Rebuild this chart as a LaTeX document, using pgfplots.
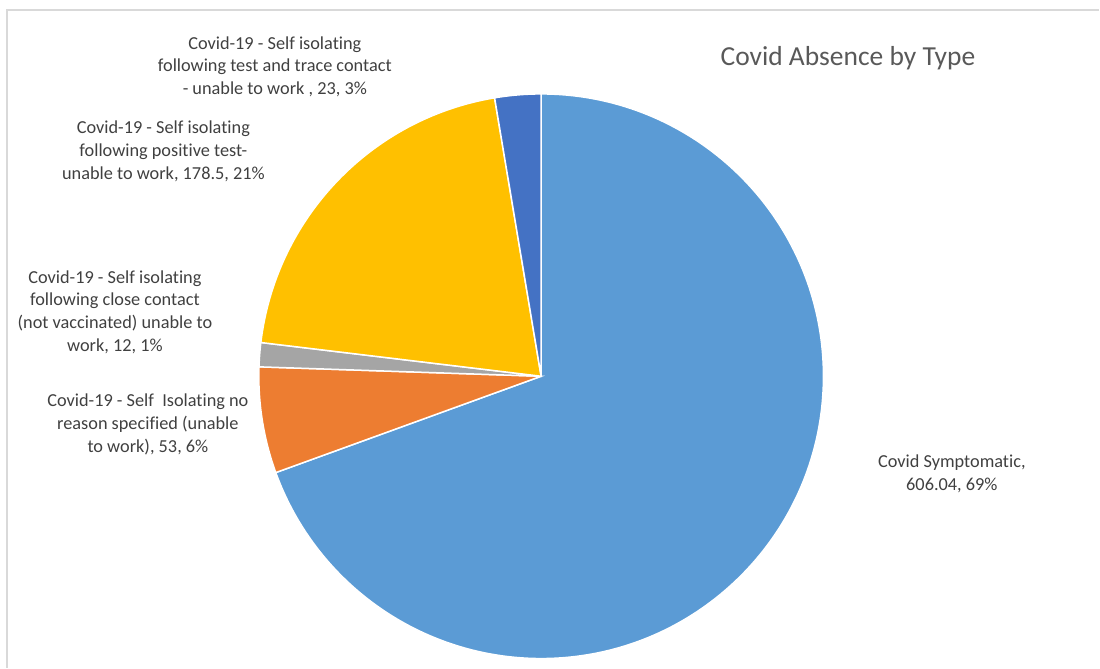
\documentclass[border=0pt]{standalone}
\usepackage{pgfplots}
\pgfplotsset{compat=1.18}
\usepackage{fontspec}
\setmainfont[Ligatures={NoCommon}]{Carlito}
\definecolor{cBlue}{HTML}{5B9BD5}
\definecolor{cOrange}{HTML}{ED7D31}
\definecolor{cGrey}{HTML}{A5A5A5}
\definecolor{cYellow}{HTML}{FFC000}
\definecolor{cDark}{HTML}{4472C4}
\definecolor{lbl}{HTML}{404040}
\definecolor{ttl}{HTML}{595959}
\definecolor{frm}{HTML}{D9D9D9}
\begin{document}
\begin{tikzpicture}
% slice values (clockwise from 12 o'clock)
\pgfmathsetmacro{\vA}{606.04}% Covid Symptomatic
\pgfmathsetmacro{\vB}{53}%     Self isolating no reason specified
\pgfmathsetmacro{\vC}{12}%     close contact (not vaccinated)
\pgfmathsetmacro{\vD}{178.5}%  positive test
\pgfmathsetmacro{\vE}{23}%     test and trace contact
\pgfmathsetmacro{\tot}{\vA+\vB+\vC+\vD+\vE}
\pgfmathsetmacro{\aA}{90}
\pgfmathsetmacro{\aB}{\aA-360*(\vA/\tot)}
\pgfmathsetmacro{\aC}{\aB-360*(\vB/\tot)}
\pgfmathsetmacro{\aD}{\aC-360*(\vC/\tot)}
\pgfmathsetmacro{\aE}{\aD-360*(\vD/\tot)}
\pgfmathsetmacro{\aF}{\aE-360*(\vE/\tot)}
\def\R{282.5pt}
\begin{axis}[x=1pt,y=1pt,xmin=0,xmax=1100,ymin=0,ymax=668,y dir=reverse,
  hide axis,clip=false,
  every node/.style={inner sep=0pt,outer sep=0pt}]
\path (axis cs:0,0) (axis cs:1100,668);
\draw[frm, line width=1.5pt] (axis cs:7,668) -- (axis cs:7,10) -- (axis cs:1100,10);
\filldraw[fill=cBlue,draw=white,line width=1.5pt] (axis cs:541.5,376.5) -- ++(\aA:\R) arc[start angle=\aA, end angle=\aB, radius=\R] -- cycle;
\filldraw[fill=cOrange,draw=white,line width=1.5pt] (axis cs:541.5,376.5) -- ++(\aB:\R) arc[start angle=\aB, end angle=\aC, radius=\R] -- cycle;
\filldraw[fill=cGrey,draw=white,line width=1.5pt] (axis cs:541.5,376.5) -- ++(\aC:\R) arc[start angle=\aC, end angle=\aD, radius=\R] -- cycle;
\filldraw[fill=cYellow,draw=white,line width=1.5pt] (axis cs:541.5,376.5) -- ++(\aD:\R) arc[start angle=\aD, end angle=\aE, radius=\R] -- cycle;
\filldraw[fill=cDark,draw=white,line width=1.5pt] (axis cs:541.5,376.5) -- ++(\aE:\R) arc[start angle=\aE, end angle=\aF, radius=\R] -- cycle;
% title
\node[anchor=base,text=ttl,font=\fontsize{27.5}{33}\selectfont] at (axis cs:848.5,65.5) {Covid Absence by Type};
% labels
\begin{scope}[every node/.append style={anchor=base,text=lbl,font=\fontsize{18.3}{22}\selectfont}]
\node at (axis cs:275,49.3) {Covid-19 - Self isolating};
\node at (axis cs:275,72) {following test and trace contact};
\node at (axis cs:275,94.5) {- unable to work , 23, 3\%};
\node at (axis cs:163.5,133.3) {Covid-19 - Self isolating};
\node at (axis cs:163.5,156.5) {following positive test-};
\node at (axis cs:163.5,179.5) {unable to work, 178.5, 21\%};
\node at (axis cs:115,283.3) {Covid-19 - Self isolating};
\node at (axis cs:115,306) {following close contact};
\node at (axis cs:115,329) {(not vaccinated) unable to};
\node at (axis cs:115,352) {work, 12, 1\%};
\node at (axis cs:148,406.7) {Covid-19 - Self\ \ Isolating no};
\node at (axis cs:148,430) {reason specified (unable};
\node at (axis cs:148,452.7) {to work), 53, 6\%};
\node at (axis cs:952.5,468.3) {Covid Symptomatic,};
\node at (axis cs:952.5,491) {606.04, 69\%};
\end{scope}
\end{axis}
\end{tikzpicture}
\end{document}
